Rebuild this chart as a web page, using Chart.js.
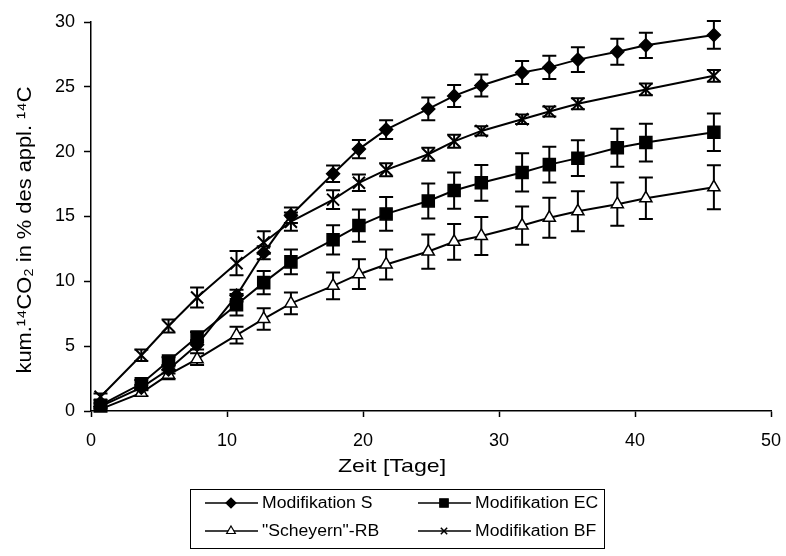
<!DOCTYPE html>
<html>
<head>
<meta charset="utf-8">
<script src="https://cdn.jsdelivr.net/npm/chart.js@4/dist/chart.umd.min.js"></script>
<style>
  html, body { margin: 0; padding: 0; background: #fff; }
  #wrap { width: 786px; height: 556px; }
</style>
</head>
<body>
<div id="wrap"><canvas id="myChart" width="786" height="556"></canvas></div>
<script>
const days = [0.7, 3.7, 5.7, 7.8, 10.7, 12.7, 14.7, 17.8, 19.7, 21.7, 24.8, 26.7, 28.7, 31.7, 33.7, 35.8, 38.7, 40.8, 45.8];
const bfDays = [0.7, 3.7, 5.7, 7.8, 10.7, 12.7, 14.7, 17.8, 19.7, 21.7, 24.8, 26.7, 28.7, 31.7, 33.7, 35.8, 40.8, 45.8];

const sVals = [0.35, 1.8, 3.2, 5.1, 8.9, 12.2, 15.1, 18.3, 20.2, 21.7, 23.3, 24.3, 25.1, 26.1, 26.5, 27.1, 27.7, 28.2, 29.0];
const sErr = [0.2, 0.2, 0.3, 0.35, 0.45, 0.5, 0.6, 0.64, 0.7, 0.73, 0.87, 0.85, 0.85, 0.89, 0.9, 0.96, 1.0, 0.97, 1.07];

const ecVals = [0.45, 2.1, 3.85, 5.7, 8.2, 9.9, 11.5, 13.2, 14.3, 15.2, 16.2, 17.0, 17.6, 18.4, 19.0, 19.5, 20.3, 20.7, 21.5];
const ecErr = [0.2, 0.3, 0.3, 0.4, 0.83, 0.9, 0.96, 1.13, 1.24, 1.3, 1.35, 1.4, 1.38, 1.47, 1.38, 1.38, 1.47, 1.45, 1.45];

const rbVals = [0.15, 1.4, 2.8, 4.0, 5.85, 7.1, 8.3, 9.65, 10.55, 11.3, 12.3, 13.05, 13.5, 14.3, 14.9, 15.4, 15.95, 16.4, 17.25];
const rbErr = [0.2, 0.25, 0.35, 0.45, 0.64, 0.83, 0.83, 1.03, 1.15, 1.15, 1.32, 1.38, 1.47, 1.47, 1.54, 1.54, 1.67, 1.6, 1.7];

const bfVals = [1.1, 4.3, 6.55, 8.75, 11.4, 13.0, 14.6, 16.3, 17.6, 18.6, 19.8, 20.8, 21.6, 22.5, 23.1, 23.7, 24.8, 25.85];
const bfErr = [0.25, 0.45, 0.5, 0.77, 0.94, 0.87, 0.7, 0.73, 0.64, 0.5, 0.5, 0.5, 0.36, 0.37, 0.38, 0.42, 0.45, 0.45];

const seriesNames = ["Modifikation S", "Modifikation EC", "\"Scheyern\"-RB", "Modifikation BF"];
const xTicks = [0, 10, 20, 30, 40, 50];
const yTicks = [0, 5, 10, 15, 20, 25, 30];
const xTitle = "Zeit [Tage]";
const yTitle = "kum.¹⁴CO₂ in % des appl. ¹⁴C";

const font = "'Liberation Sans', Arial, sans-serif";

const toPoints = (xs, ys, errs) => xs.map((x, i) => ({ x: x, y: ys[i], err: errs[i] }));

const makeSet = (label, xs, ys, errs, style, radius, fill) => ({
  label: label,
  data: toPoints(xs, ys, errs),
  borderColor: "#000",
  borderWidth: 2,
  pointStyle: style,
  pointRadius: radius,
  pointHoverRadius: radius,
  pointBackgroundColor: fill,
  pointBorderColor: "#000",
  pointBorderWidth: style === "crossRot" ? 2 : 1.5,
  tension: 0,
  fill: false,
});

// draw text slightly widened, like the reference
const stretchText = (ctx, text, x, y, sx, align) => {
  ctx.save();
  ctx.translate(x, y);
  ctx.scale(sx, 1);
  ctx.textAlign = align;
  ctx.fillText(text, 0, 0);
  ctx.restore();
};

// error bars drawn from the data through the scales
const errorBars = {
  id: "errorBars",
  beforeDatasetsDraw(chart) {
    const ctx = chart.ctx;
    const yScale = chart.scales.y;
    ctx.save();
    ctx.strokeStyle = "#000";
    ctx.lineWidth = 2;
    chart.data.datasets.forEach((ds, di) => {
      const meta = chart.getDatasetMeta(di);
      meta.data.forEach((pt, i) => {
        const d = ds.data[i];
        const top = yScale.getPixelForValue(d.y + d.err);
        const bot = yScale.getPixelForValue(d.y - d.err);
        ctx.beginPath();
        ctx.moveTo(pt.x, top);
        ctx.lineTo(pt.x, bot);
        ctx.moveTo(pt.x - 7, top);
        ctx.lineTo(pt.x + 7, top);
        ctx.moveTo(pt.x - 7, bot);
        ctx.lineTo(pt.x + 7, bot);
        ctx.stroke();
      });
    });
    ctx.restore();
  },
};

// axis titles + boxed legend with line + marker, two columns
const extras = {
  id: "extras",
  afterDraw(chart) {
    const ctx = chart.ctx;
    ctx.save();
    ctx.fillStyle = "#000";
    ctx.textBaseline = "middle";

    ctx.font = "19px " + font;
    stretchText(ctx, xTitle, 392, 467, 1.22, "center");

    ctx.save();
    ctx.translate(25, 230);
    ctx.rotate(-Math.PI / 2);
    ctx.font = "21px " + font;
    stretchText(ctx, yTitle, 0, 0, 1.04, "center");
    ctx.restore();

    ctx.strokeStyle = "#000";
    ctx.lineWidth = 1;
    ctx.strokeRect(190.5, 489.5, 414, 59);
    const cols = [205, 418];
    const rows = [503, 531];
    const sizes = [5, 6, 5, 4.5];
    [0, 1, 2, 3].forEach((di, k) => {
      const ds = chart.data.datasets[di];
      const x0 = cols[k % 2];
      const y0 = rows[Math.floor(k / 2)];
      ctx.beginPath();
      ctx.lineWidth = 1.5;
      ctx.moveTo(x0, y0);
      ctx.lineTo(x0 + 53, y0);
      ctx.stroke();
      ctx.fillStyle = ds.pointBackgroundColor;
      ctx.lineWidth = ds.pointStyle === "crossRot" ? 1.5 : 1.2;
      Chart.helpers.drawPoint(ctx, { pointStyle: ds.pointStyle, radius: sizes[di], rotation: 0, borderWidth: 1 }, x0 + 26, y0);
      ctx.fillStyle = "#000";
      ctx.font = "16px " + font;
      stretchText(ctx, ds.label, x0 + 57, y0 + 1, 1.1, "left");
    });
    ctx.restore();
  },
};

const canvas = document.querySelector("#myChart");
const ctx = canvas.getContext("2d");

new Chart(ctx, {
  type: "line",
  data: {
    datasets: [
      makeSet(seriesNames[0], days, sVals, sErr, "rectRot", 6.5, "#000"),
      makeSet(seriesNames[1], days, ecVals, ecErr, "rect", 8.5, "#000"),
      makeSet(seriesNames[2], days, rbVals, rbErr, "triangle", 7, "#fff"),
      makeSet(seriesNames[3], bfDays, bfVals, bfErr, "crossRot", 8.5, "#000"),
    ],
  },
  options: {
    responsive: false,
    animation: false,
    layout: { padding: { top: 22, right: 15, bottom: 75, left: 0 } },
    plugins: {
      legend: { display: false },
      tooltip: { enabled: false },
    },
    scales: {
      x: {
        type: "linear",
        min: 0,
        max: 50,
        afterBuildTicks: (s) => { s.ticks = xTicks.map((v) => ({ value: v })); },
        afterFit: (s) => { s.height = 70; s.paddingRight = 10; s.paddingLeft = 0; },
        ticks: { color: "#000", font: { family: font, size: 18 }, padding: 13, maxRotation: 0 },
        grid: { display: true, drawOnChartArea: false, color: "#000", tickLength: 6, tickWidth: 1.5 },
        border: { color: "#000", width: 1.5 },
      },
      y: {
        min: 0,
        max: 30,
        afterBuildTicks: (s) => { s.ticks = yTicks.map((v) => ({ value: v })); },
        afterFit: (s) => { s.width = 91; },
        ticks: { color: "#000", font: { family: font, size: 18 }, padding: 9 },
        grid: { display: true, drawOnChartArea: false, color: "#000", tickLength: 7, tickWidth: 1.5 },
        border: { color: "#000", width: 1.5 },
      },
    },
  },
  plugins: [errorBars, extras],
});
</script>
</body>
</html>
